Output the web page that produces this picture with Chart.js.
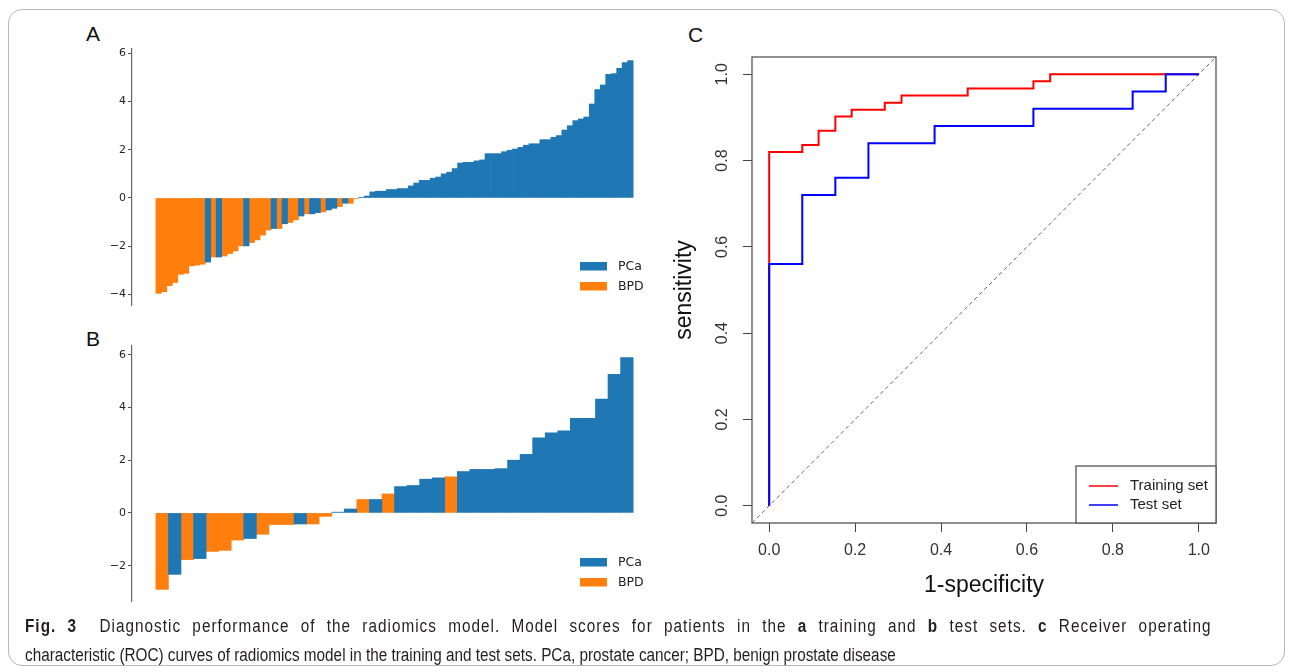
<!DOCTYPE html>
<html>
<head>
<meta charset="utf-8">
<script src="https://cdn.jsdelivr.net/npm/chart.js@4"></script>
<style>
  body { margin: 0; background: #fff; width: 1292px; height: 672px; position: relative; overflow: hidden; font-family: "Liberation Sans", Arial, sans-serif; }
  .frame { position: absolute; left: 8px; top: 9px; width: 1275px; height: 655px; border: 1px solid #b8b8b8; border-radius: 14px; }
  .box { position: absolute; }
  .tag { position: absolute; font-size: 21px; color: #111; }
  .caption { position: absolute; left: 25px; font-size: 18px; line-height: 29px; color: #231f20; white-space: nowrap; transform: scaleX(0.85); transform-origin: 0 0; }
  .caption.first { width: 1396px; white-space: normal; letter-spacing: 1.2px; text-align: justify; text-align-last: justify; }
</style>
</head>
<body>
<div class="frame"></div>
<div class="tag" style="left:86px;top:22px">A</div>
<div class="tag" style="left:86px;top:327px">B</div>
<div class="tag" style="left:688px;top:23px">C</div>

<div class="box" style="left:70px;top:30px;width:600px;height:290px"><canvas id="train-chart"></canvas></div>
<div class="box" style="left:70px;top:330px;width:600px;height:280px"><canvas id="test-chart"></canvas></div>
<div class="box" style="left:660px;top:20px;width:620px;height:600px"><canvas id="roc-chart"></canvas></div>

<div class="caption first" style="top:612px"><b>Fig. 3</b>&nbsp; Diagnostic performance of the radiomics model. Model scores for patients in the <b>a</b> training and <b>b</b> test sets. <b>c</b> Receiver operating</div>
<div class="caption" style="top:641px">characteristic (ROC) curves of radiomics model in the training and test sets. PCa, prostate cancer; BPD, benign prostate disease</div>

<script>
// Model scores, sorted, training set (A)  P = PCa, B = BPD
const trainScores = [
    -3.96, -3.89, -3.64, -3.51, -3.17, -3.13, -2.82, -2.79, -2.75, -2.66,
    -2.45, -2.45, -2.41, -2.31, -2.20, -1.99, -1.99, -1.85, -1.74, -1.54,
    -1.33, -1.27, -1.27, -1.07, -1.02, -0.91, -0.75, -0.66, -0.66, -0.61,
    -0.58, -0.50, -0.43, -0.36, -0.22, -0.22, -0.02, 0.03, 0.08, 0.25,
    0.28, 0.28, 0.35, 0.35, 0.39, 0.39, 0.50, 0.62, 0.73, 0.73,
    0.82, 0.87, 1.00, 1.07, 1.22, 1.45, 1.48, 1.48, 1.54, 1.58,
    1.84, 1.84, 1.84, 1.92, 1.98, 2.03, 2.10, 2.19, 2.25, 2.25,
    2.42, 2.42, 2.52, 2.59, 2.82, 3.00, 3.21, 3.28, 3.36, 3.90,
    4.50, 4.69, 5.13, 5.16, 5.38, 5.62, 5.70
];
const trainGroups = [
    'B', 'B', 'B', 'B', 'B', 'B', 'B', 'B', 'B', 'P',
    'B', 'P', 'B', 'B', 'B', 'B', 'P', 'B', 'B', 'B',
    'B', 'P', 'B', 'P', 'B', 'B', 'P', 'B', 'P', 'P',
    'B', 'P', 'P', 'B', 'P', 'B', 'B', 'P', 'P', 'P',
    'P', 'P', 'P', 'P', 'P', 'P', 'P', 'P', 'P', 'P',
    'P', 'P', 'P', 'P', 'P', 'P', 'P', 'P', 'P', 'P',
    'P', 'P', 'P', 'P', 'P', 'P', 'P', 'P', 'P', 'P',
    'P', 'P', 'P', 'P', 'P', 'P', 'P', 'P', 'P', 'P',
    'P', 'P', 'P', 'P', 'P', 'P', 'P'
];

// Model scores, sorted, test set (B)
const testScores = [
    -2.90, -2.33, -1.77, -1.73, -1.46, -1.42, -1.03, -0.97, -0.81, -0.44,
    -0.44, -0.42, -0.42, -0.13, 0.03, 0.15, 0.51, 0.51, 0.72, 1.00,
    1.04, 1.28, 1.33, 1.37, 1.57, 1.65, 1.65, 1.68, 2.00, 2.22,
    2.85, 3.04, 3.11, 3.59, 3.59, 4.32, 5.26, 5.89
];
const testGroups = [
    'B', 'P', 'B', 'P', 'B', 'B', 'B', 'P', 'B', 'B',
    'B', 'P', 'B', 'B', 'P', 'P', 'B', 'P', 'B', 'P',
    'P', 'P', 'P', 'B', 'P', 'P', 'P', 'P', 'P', 'P',
    'P', 'P', 'P', 'P', 'P', 'P', 'P', 'P'
];
const scoreTicks = [-4, -2, 0, 2, 4, 6];

// ROC curve corners (C)
const trainFpr = [0, 0, 0.077, 0.115, 0.154, 0.192, 0.269, 0.308, 0.462, 0.615, 0.654, 1.0];
const trainTpr = [0, 0.820, 0.836, 0.869, 0.902, 0.918, 0.934, 0.951, 0.967, 0.984, 1.0, 1.0];
const testFpr = [0, 0, 0.077, 0.154, 0.231, 0.385, 0.615, 0.846, 0.923, 1.0];
const testTpr = [0, 0.56, 0.72, 0.76, 0.84, 0.88, 0.92, 0.96, 1.0, 1.0];
const chanceLine = [-0.04, 1.04];
const rocTicks = [0, 0.2, 0.4, 0.6, 0.8, 1.0];

const PCA_BLUE = '#1f77b4';
const BPD_ORANGE = '#ff7f0e';

function groupPoints(scores, groups, key) {
    return scores.map((v, i) => ({ x: i, y: v })).filter((p, i) => groups[i] === key);
}

function zipPoints(xs, ys) {
    return xs.map((x, i) => ({ x: x, y: ys[i] }));
}

// matplotlib-style legend in the lower right of the axes
const patchLegend = {
    id: 'patchLegend',
    afterDraw(chart) {
        const { ctx, chartArea } = chart;
        ctx.save();
        ctx.font = '12.5px "DejaVu Sans"';
        ctx.textBaseline = 'middle';
        chart.data.datasets.forEach((ds, i) => {
            const y = chartArea.bottom - 43 + i * 20;
            ctx.fillStyle = ds.backgroundColor;
            ctx.fillRect(chartArea.right - 77, y, 27, 8.5);
            ctx.fillStyle = '#222';
            ctx.fillText(ds.label, chartArea.right - 39, y + 4.5);
        });
        ctx.restore();
    }
};

function drawWaterfall(id, scores, groups) {
    const lo = Math.min(...scores), hi = Math.max(...scores);
    const margin = (hi - lo) * 0.05;
    const xPad = scores.length * 0.05;
    const isTrain = id === 'train-chart';

    new Chart(document.getElementById(id), {
        type: 'bar',
        data: {
            datasets: [
                { label: 'PCa', data: groupPoints(scores, groups, 'P'), backgroundColor: PCA_BLUE },
                { label: 'BPD', data: groupPoints(scores, groups, 'B'), backgroundColor: BPD_ORANGE }
            ]
        },
        options: {
            animation: false,
            responsive: true,
            maintainAspectRatio: false,
            grouped: false,
            barPercentage: 1,
            categoryPercentage: 1,
            layout: { padding: isTrain ? { left: 12, right: 13, top: 19, bottom: 15 } : { left: 12, right: 13, top: 16, bottom: 9 } },
            plugins: { legend: { display: false }, tooltip: { enabled: false } },
            scales: {
                x: {
                    type: 'linear',
                    display: false,
                    offset: false,
                    min: -0.5 - xPad,
                    max: scores.length - 0.5 + xPad,
                    afterBuildTicks: s => { s.ticks = [{ value: 0 }]; }
                },
                y: {
                    min: lo - margin,
                    max: hi + margin,
                    afterBuildTicks: s => { s.ticks = scoreTicks.map(v => ({ value: v })); },
                    afterFit: s => { s.width = 50; },
                    grid: { drawOnChartArea: false, tickLength: 4, color: '#555' },
                    border: { color: '#666', width: 1.2 },
                    ticks: {
                        padding: 2,
                        color: '#222',
                        font: { family: 'DejaVu Sans', size: 11 },
                        callback: v => String(v).replace('-', '\u2212')
                    }
                }
            }
        },
        plugins: [patchLegend]
    });
}

// R-style box and legend for the ROC plot
const rocFrame = {
    id: 'rocFrame',
    afterDraw(chart) {
        const { ctx, chartArea: a } = chart;
        ctx.save();
        ctx.strokeStyle = '#555';
        ctx.lineWidth = 1.3;
        ctx.strokeRect(a.left, a.top, a.right - a.left, a.bottom - a.top);

        const bx = a.right - 140, by = a.bottom - 57;
        ctx.fillStyle = '#fff';
        ctx.fillRect(bx, by, 140, 57);
        ctx.strokeRect(bx, by, 140, 57);
        ctx.font = '15px "Liberation Sans"';
        ctx.textBaseline = 'middle';
        [chart.data.datasets[0], chart.data.datasets[1]].forEach((ds, i) => {
            const y = a.bottom - 37 + i * 19;
            ctx.strokeStyle = ds.borderColor;
            ctx.lineWidth = 1.5;
            ctx.beginPath();
            ctx.moveTo(a.right - 127, y);
            ctx.lineTo(a.right - 98, y);
            ctx.stroke();
            ctx.fillStyle = '#222';
            ctx.fillText(ds.label, a.right - 86, y);
        });
        ctx.restore();
    }
};

function drawRoc() {
    new Chart(document.getElementById('roc-chart'), {
        type: 'scatter',
        data: {
            datasets: [
                { label: 'Training set', data: zipPoints(trainFpr, trainTpr), borderColor: '#ff0000', borderWidth: 2, showLine: true, stepped: 'before', pointRadius: 0, order: 2 },
                { label: 'Test set', data: zipPoints(testFpr, testTpr), borderColor: '#0000ff', borderWidth: 2, showLine: true, stepped: 'before', pointRadius: 0, order: 1 },
                { label: 'chance', data: zipPoints(chanceLine, chanceLine), borderColor: '#666', borderWidth: 1, borderDash: [4, 3], showLine: true, pointRadius: 0, order: 3 }
            ]
        },
        options: {
            animation: false,
            responsive: true,
            maintainAspectRatio: false,
            layout: { padding: { left: 10, right: 64, top: 37, bottom: 17 } },
            plugins: { legend: { display: false }, tooltip: { enabled: false } },
            scales: {
                x: {
                    type: 'linear',
                    min: -0.04,
                    max: 1.04,
                    afterBuildTicks: s => { s.ticks = rocTicks.map(v => ({ value: v })); },
                    afterFit: s => { s.height = 80; },
                    grid: { drawOnChartArea: false, tickLength: 9, color: '#444' },
                    border: { display: false },
                    ticks: {
                        padding: 9,
                        color: '#333',
                        font: { family: 'Liberation Sans', size: 16 },
                        callback: v => v.toFixed(1)
                    },
                    title: {
                        display: true,
                        text: '1-specificity',
                        color: '#111',
                        font: { family: 'Liberation Sans', size: 23 },
                        padding: { top: 0, bottom: 4 }
                    }
                },
                y: {
                    type: 'linear',
                    min: -0.04,
                    max: 1.04,
                    afterBuildTicks: s => { s.ticks = rocTicks.map(v => ({ value: v })); },
                    afterFit: s => { s.width = 82; },
                    grid: { drawOnChartArea: false, tickLength: 9, color: '#444' },
                    border: { display: false },
                    ticks: {
                        padding: 9,
                        minRotation: 90,
                        maxRotation: 90,
                        crossAlign: 'center',
                        color: '#333',
                        font: { family: 'Liberation Sans', size: 16 },
                        callback: v => v.toFixed(1)
                    },
                    title: {
                        display: true,
                        text: 'sensitivity',
                        color: '#111',
                        font: { family: 'Liberation Sans', size: 23 },
                        padding: { top: 1, bottom: 0 }
                    }
                }
            }
        },
        plugins: [rocFrame]
    });
}

drawWaterfall('train-chart', trainScores, trainGroups);
drawWaterfall('test-chart', testScores, testGroups);
drawRoc();
</script>
</body>
</html>
